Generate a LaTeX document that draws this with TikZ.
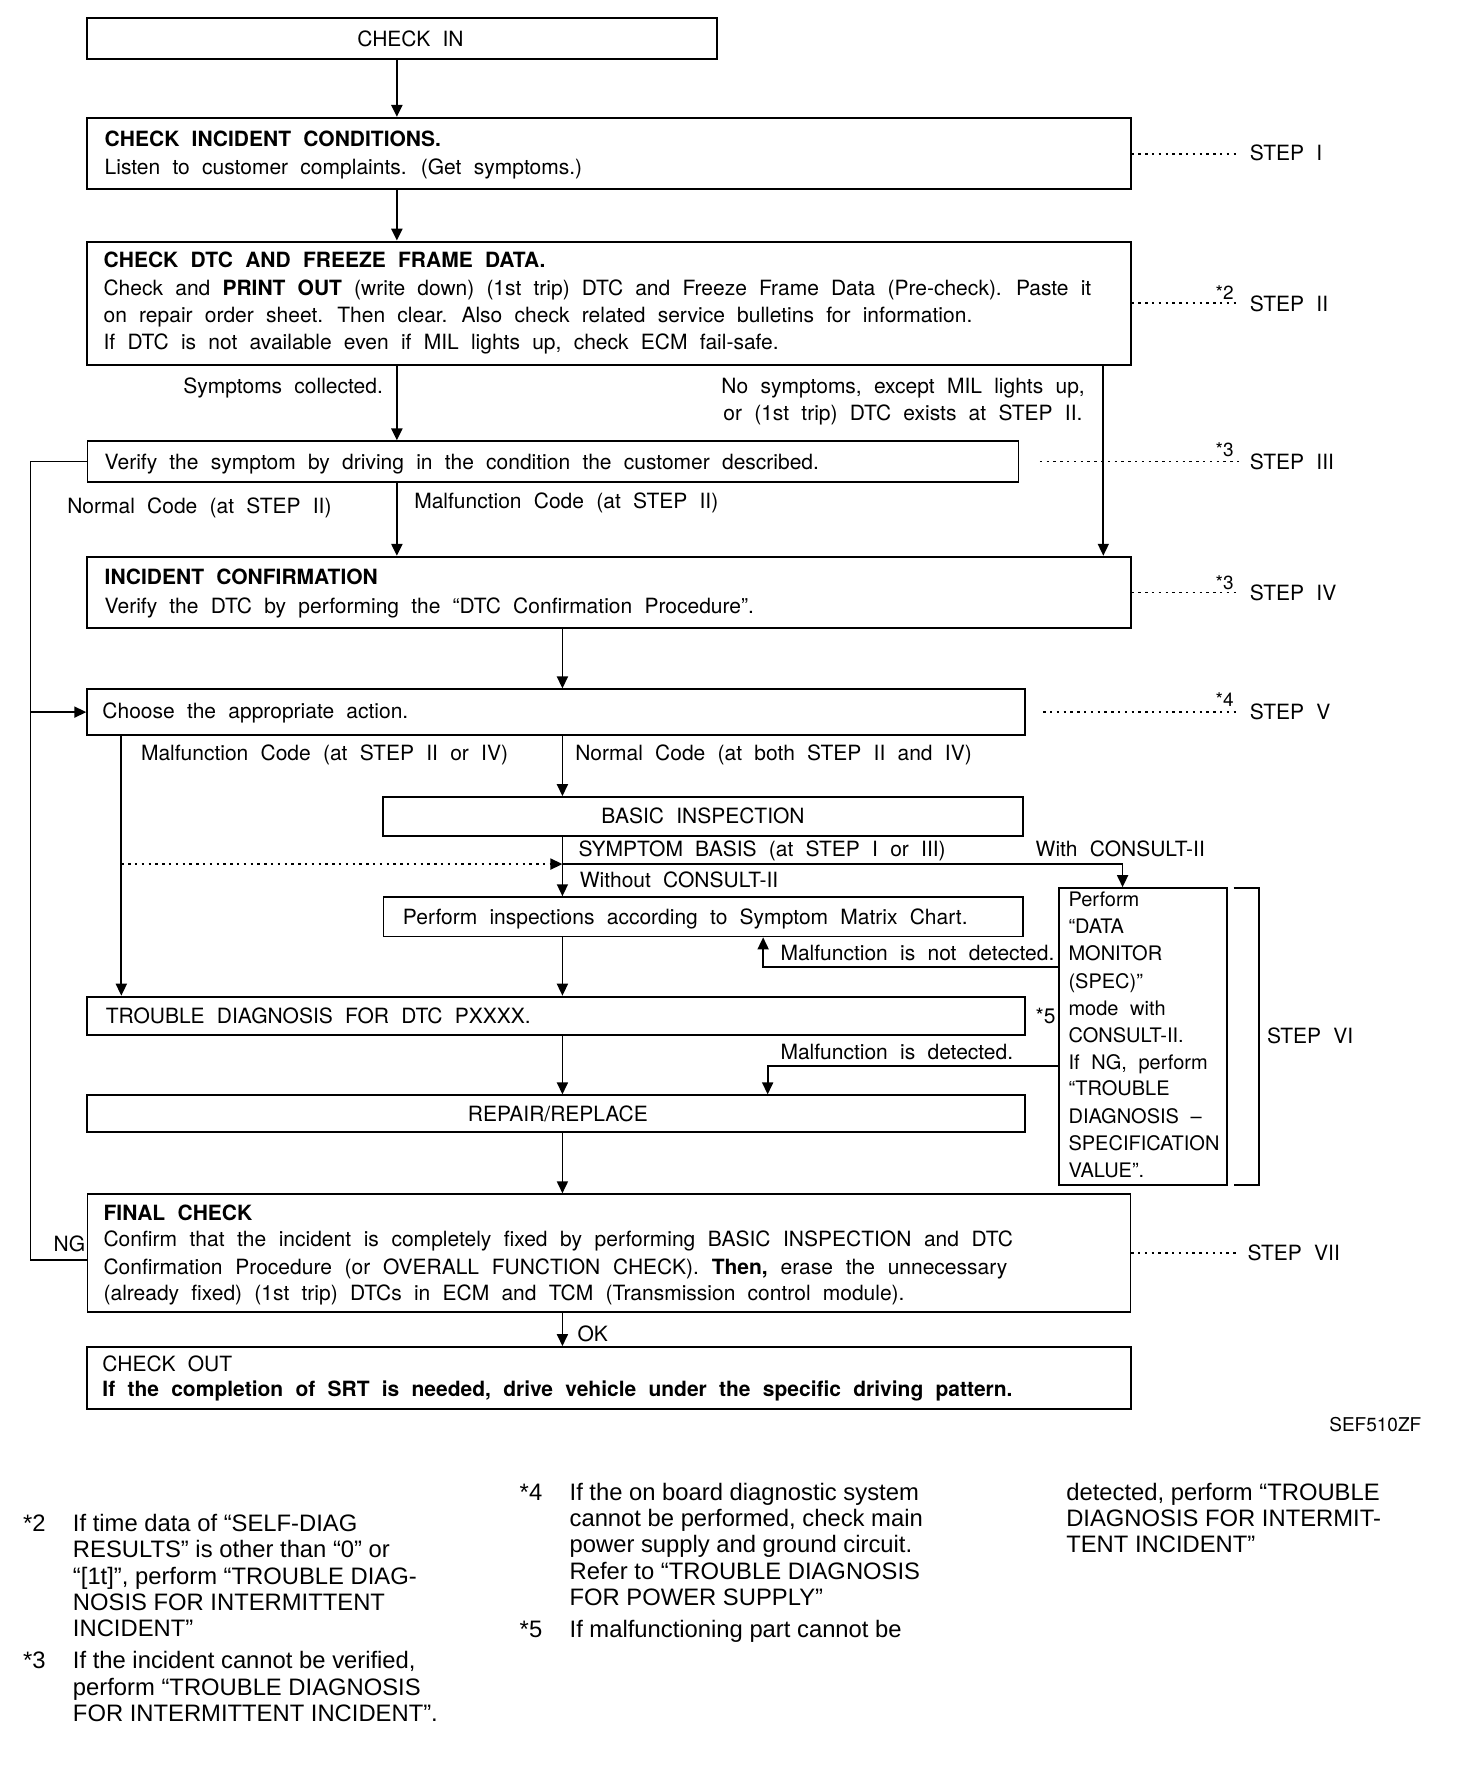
\documentclass[tikz,border=0pt]{standalone}
\usepackage{fontspec}
\setmainfont{TeX Gyre Heros}[WordSpace=2.1]
\newfontfamily\notefont{Liberation Sans}
\usetikzlibrary{arrows.meta,fit}
\tikzset{
  bx/.style={draw, line width=1pt, inner sep=0pt},
  bxthin/.style={draw, line width=0.7pt, inner sep=0pt},
  lbl/.style={inner sep=0pt, anchor=west, text height=7.5pt, text depth=0pt, font=\fontsize{10.5}{12}\selectfont},
  ctr/.style={anchor=center},
  bold/.style={font=\fontsize{10.5}{12}\selectfont\bfseries},
  dm/.style={font=\fontsize{10}{12}\selectfont, text height=7.2pt},
  sup/.style={inner sep=0pt, font=\fontsize{9.5}{10}\selectfont},
  fn/.style={inner sep=0pt, anchor=west, text height=8.5pt, text depth=0pt, font=\notefont\fontsize{11.9}{13}\selectfont},
  code/.style={font=\fontsize{9.5}{11}\selectfont},
  tip/.style={-{Triangle[length=6pt,width=5.5pt]}},
  arr/.style={draw, line width=0.85pt, tip},
  arrthick/.style={draw, line width=1.2pt, tip},
  ln/.style={draw, line width=0.7pt},
  dots/.style={draw, line width=0.9pt, dash pattern=on 1.2pt off 2.2pt},
  dotarr/.style={dots, tip},
}
\newcommand\tline[5][]{\node[lbl,#1] (#2) at (#3,#4) {#5};}
\begin{document}
\begin{tikzpicture}[x=0.567pt, y=-0.567pt]
\path[use as bounding box] (0,0) rectangle (1298,1568);

% ---------- boxes ----------
\node[bx, fit={(77,16) (632,52)}] (checkin) {};
\node[bx, fit={(77,104) (997,167)}] (incident) {};
\node[bx, fit={(77,213) (997,322)}] (dtc) {};
\node[bxthin, fit={(77,389) (898,425)}] (verify) {};
\node[bx, fit={(77,491) (997,554)}] (confirm) {};
\node[bx, fit={(77,608) (904,648)}] (choose) {};
\node[bx, fit={(338,703) (902,737)}] (basic) {};
\node[bxthin, fit={(338,791) (902,826)}] (perform) {};
\node[bx, fit={(77,879) (904,913)}] (trouble) {};
\node[bx, fit={(77,966) (904,998)}] (repair) {};
\node[bxthin, fit={(934,783) (1082,1045)}] (datamon) {};
\node[bxthin, fit={(77,1053) (997,1157)}] (final) {};
\node[bx, fit={(77,1188) (997,1243)}] (checkout) {};

% ---------- box texts ----------
\tline[ctr]{tcheckin}{362}{34}{CHECK IN}
\tline[bold]{tinc1}{92}{123}{CHECK INCIDENT CONDITIONS.}
\tline{tinc2}{92}{147}{Listen to customer complaints. (Get symptoms.)}
\tline[bold]{tdtc1}{91}{229}{CHECK DTC AND FREEZE FRAME DATA.}
\tline{tdtc2}{91}{254}{\makebox[493.9pt][s]{Check and \textbf{PRINT OUT} (write down) (1st trip) DTC and Freeze Frame Data (Pre-check). Paste it}}
\tline{tdtc3}{91}{278}{on repair order sheet. Then clear. Also check related service bulletins for information.}
\tline{tdtc4}{91}{302}{If DTC is not available even if MIL lights up, check ECM fail-safe.}
\tline{tver}{92}{407}{Verify the symptom by driving in the condition the customer described.}
\tline[bold]{tconf1}{92}{509}{INCIDENT CONFIRMATION}
\tline{tconf2}{92}{534}{Verify the DTC by performing the “DTC Confirmation Procedure”.}
\tline{tchoose}{90}{627}{Choose the appropriate action.}
\tline[ctr]{tbasic}{620}{720}{BASIC INSPECTION}
\tline{tperf}{355}{809}{Perform inspections according to Symptom Matrix Chart.}
\tline{ttrouble}{93}{896}{TROUBLE DIAGNOSIS FOR DTC PXXXX.}
\tline{tstar5}{913}{896}{*5}
\tline[ctr]{trepair}{492}{982}{REPAIR/REPLACE}
\tline[bold]{tfin1}{91}{1070}{FINAL CHECK}
\tline{tfin2}{91}{1093}{\makebox[454.7pt][s]{Confirm that the incident is completely fixed by performing BASIC INSPECTION and DTC}}
\tline{tfin3}{91}{1117}{\makebox[451.9pt][s]{Confirmation Procedure (or OVERALL FUNCTION CHECK). \textbf{Then,} erase the unnecessary}}
\tline{tfin4}{91}{1140}{(already fixed) (1st trip) DTCs in ECM and TCM (Transmission control module).}
\tline{tout1}{90}{1203}{CHECK OUT}
\tline[bold]{tout2}{90}{1225}{If the completion of SRT is needed, drive vehicle under the specific driving pattern.}

% data monitor box text
\tline[dm]{dm1}{942}{793}{Perform}
\tline[dm]{dm2}{942}{817}{“DATA}
\tline[dm]{dm3}{942}{841}{MONITOR}
\tline[dm]{dm4}{942}{865}{(SPEC)”}
\tline[dm]{dm5}{942}{889}{mode with}
\tline[dm]{dm6}{942}{913}{CONSULT-II.}
\tline[dm]{dm7}{942}{937}{If NG, perform}
\tline[dm]{dm8}{942}{960}{“TROUBLE}
\tline[dm]{dm9}{942}{984}{DIAGNOSIS –}
\tline[dm]{dm10}{942}{1008}{SPECIFICATION}
\tline[dm]{dm11}{942}{1032}{VALUE”.}

% ---------- connector labels ----------
\tline[anchor=east]{lsymp}{338}{340}{Symptoms collected.}
\tline[anchor=east]{lnosym1}{957}{340}{No symptoms, except MIL lights up,}
\tline[anchor=east]{lnosym2}{955}{364}{or (1st trip) DTC exists at STEP II.}
\tline{lnorm2}{59}{446}{Normal Code (at STEP II)}
\tline{lmal2}{365}{442}{Malfunction Code (at STEP II)}
\tline{lmal24}{124}{664}{Malfunction Code (at STEP II or IV)}
\tline{lnorm24}{507}{664}{Normal Code (at both STEP II and IV)}
\tline{lsb}{510}{749}{SYMPTOM BASIS (at STEP I or III)}
\tline{lwith}{913}{749}{With CONSULT-II}
\tline{lwithout}{511}{776}{Without CONSULT-II}
\tline{lnotdet}{688}{840}{Malfunction is not detected.}
\tline{ldet}{688}{928}{Malfunction is detected.}
\tline{lng}{47}{1097}{NG}
\tline{lok}{509}{1176}{OK}

% ---------- step labels ----------
\tline{stepI}{1102}{135}{STEP I}
\tline{stepII}{1102}{268}{STEP II}
\tline{stepIII}{1102}{407}{STEP III}
\tline{stepIV}{1102}{523}{STEP IV}
\tline{stepV}{1102}{628}{STEP V}
\tline{stepVI}{1117}{914}{STEP VI}
\tline{stepVII}{1100}{1105}{STEP VII}
\node[sup] (st2) at (1080,258) {*2};
\node[sup] (st3a) at (1080,397) {*3};
\node[sup] (st3b) at (1080,514) {*3};
\node[sup] (st4) at (1080,617) {*4};
\node[lbl,code] (code) at (1172,1256) {SEF510ZF};

% ---------- coordinates ----------
\coordinate (cA) at (350,0);
\coordinate (cB) at (973,0);
\coordinate (cC) at (496,0);
\coordinate (cL) at (27,0);
\coordinate (cM) at (107,0);
\coordinate (cW) at (990,0);
\coordinate (cN) at (673,0);
\coordinate (cD) at (677,0);
\coordinate (ySB) at (0,762);
\coordinate (yND) at (0,853);
\coordinate (yD) at (0,940);
\coordinate (yNG) at (0,1111);
\coordinate (s3a) at (917,407);
\coordinate (s5a) at (920,628);
\coordinate (brT) at (1088,783);
\coordinate (brB) at (1088,1045);

% ---------- connectors ----------
\draw[arrthick] (cA |- checkin.south) -- (cA |- incident.north);
\draw[arrthick] (cA |- incident.south) -- (cA |- dtc.north);
\draw[arrthick] (cA |- dtc.south) -- (cA |- verify.north);
\draw[arr] (cB |- dtc.south) -- (cB |- confirm.north);
\draw[arrthick] (cA |- verify.south) -- (cA |- confirm.north);
\draw[arr] (cC |- confirm.south) -- (cC |- choose.north);
\draw[ln] (verify.west) -- (cL |- verify.west) -- (cL |- yNG) -- (final.west |- yNG);
\draw[arr] (cL |- choose.west) -- (choose.west);
\draw[arr] (cM |- choose.south) -- (cM |- trouble.north);
\draw[arr] (cC |- choose.south) -- (cC |- basic.north);
\draw[arr] (cC |- basic.south) -- (cC |- perform.north);
\draw[arr] (cC |- ySB) -| (cW |- datamon.north);
\draw[dotarr] (cM |- ySB) -- (cC |- ySB);
\draw[arr] (cC |- perform.south) -- (cC |- trouble.north);
\draw[arr] (datamon.west |- yND) -| (cN |- perform.south);
\draw[arr] (cC |- trouble.south) -- (cC |- repair.north);
\draw[arr] (datamon.west |- yD) -| (cD |- repair.north);
\draw[arr] (cC |- repair.south) -- (cC |- final.north);
\draw[arr] (cC |- final.south) -- (cC |- checkout.north);
\draw[line width=0.9pt] (brT) -- ++(22,0) |- (brB);

% ---------- step leaders ----------
\draw[dots] (incident.east) -- ([xshift=-5pt]incident.east -| stepI.west);
\draw[dots] (dtc.east) -- ([xshift=-5pt]dtc.east -| stepII.west);
\draw[dots] (s3a) -- ([xshift=-5pt]s3a -| stepIII.west);
\draw[dots] (confirm.east) -- ([xshift=-5pt]confirm.east -| stepIV.west);
\draw[dots] (s5a) -- ([xshift=-5pt]s5a -| stepV.west);
\draw[dots] (final.east) -- ([xshift=-5pt]final.east -| stepVII.west);

% ---------- footnotes ----------
\node[fn] (f2s) at (20,1343) {*2};
\node[fn] (f2a) at (64,1343) {If time data of “SELF-DIAG};
\node[fn] (f2b) at (64,1366) {RESULTS” is other than “0” or};
\node[fn] (f2c) at (64,1390) {“[1t]”, perform “TROUBLE DIAG-};
\node[fn] (f2d) at (64,1413) {NOSIS FOR INTERMITTENT};
\node[fn] (f2e) at (64,1436) {INCIDENT”};
\node[fn] (f3s) at (20,1464) {*3};
\node[fn] (f3a) at (64,1464) {If the incident cannot be verified,};
\node[fn] (f3b) at (64,1488) {perform “TROUBLE DIAGNOSIS};
\node[fn] (f3c) at (64,1511) {FOR INTERMITTENT INCIDENT”.};
\node[fn] (f4s) at (458,1316) {*4};
\node[fn] (f4a) at (502,1316) {If the on board diagnostic system};
\node[fn] (f4b) at (502,1339) {cannot be performed, check main};
\node[fn] (f4c) at (502,1362) {power supply and ground circuit.};
\node[fn] (f4d) at (502,1385) {Refer to “TROUBLE DIAGNOSIS};
\node[fn] (f4e) at (502,1408) {FOR POWER SUPPLY”};
\node[fn] (f5s) at (458,1437) {*5};
\node[fn] (f5a) at (502,1437) {If malfunctioning part cannot be};
\node[fn] (f5b) at (940,1316) {detected, perform “TROUBLE};
\node[fn] (f5c) at (940,1339) {DIAGNOSIS FOR INTERMIT-};
\node[fn] (f5d) at (940,1362) {TENT INCIDENT”};
\end{tikzpicture}
\end{document}
